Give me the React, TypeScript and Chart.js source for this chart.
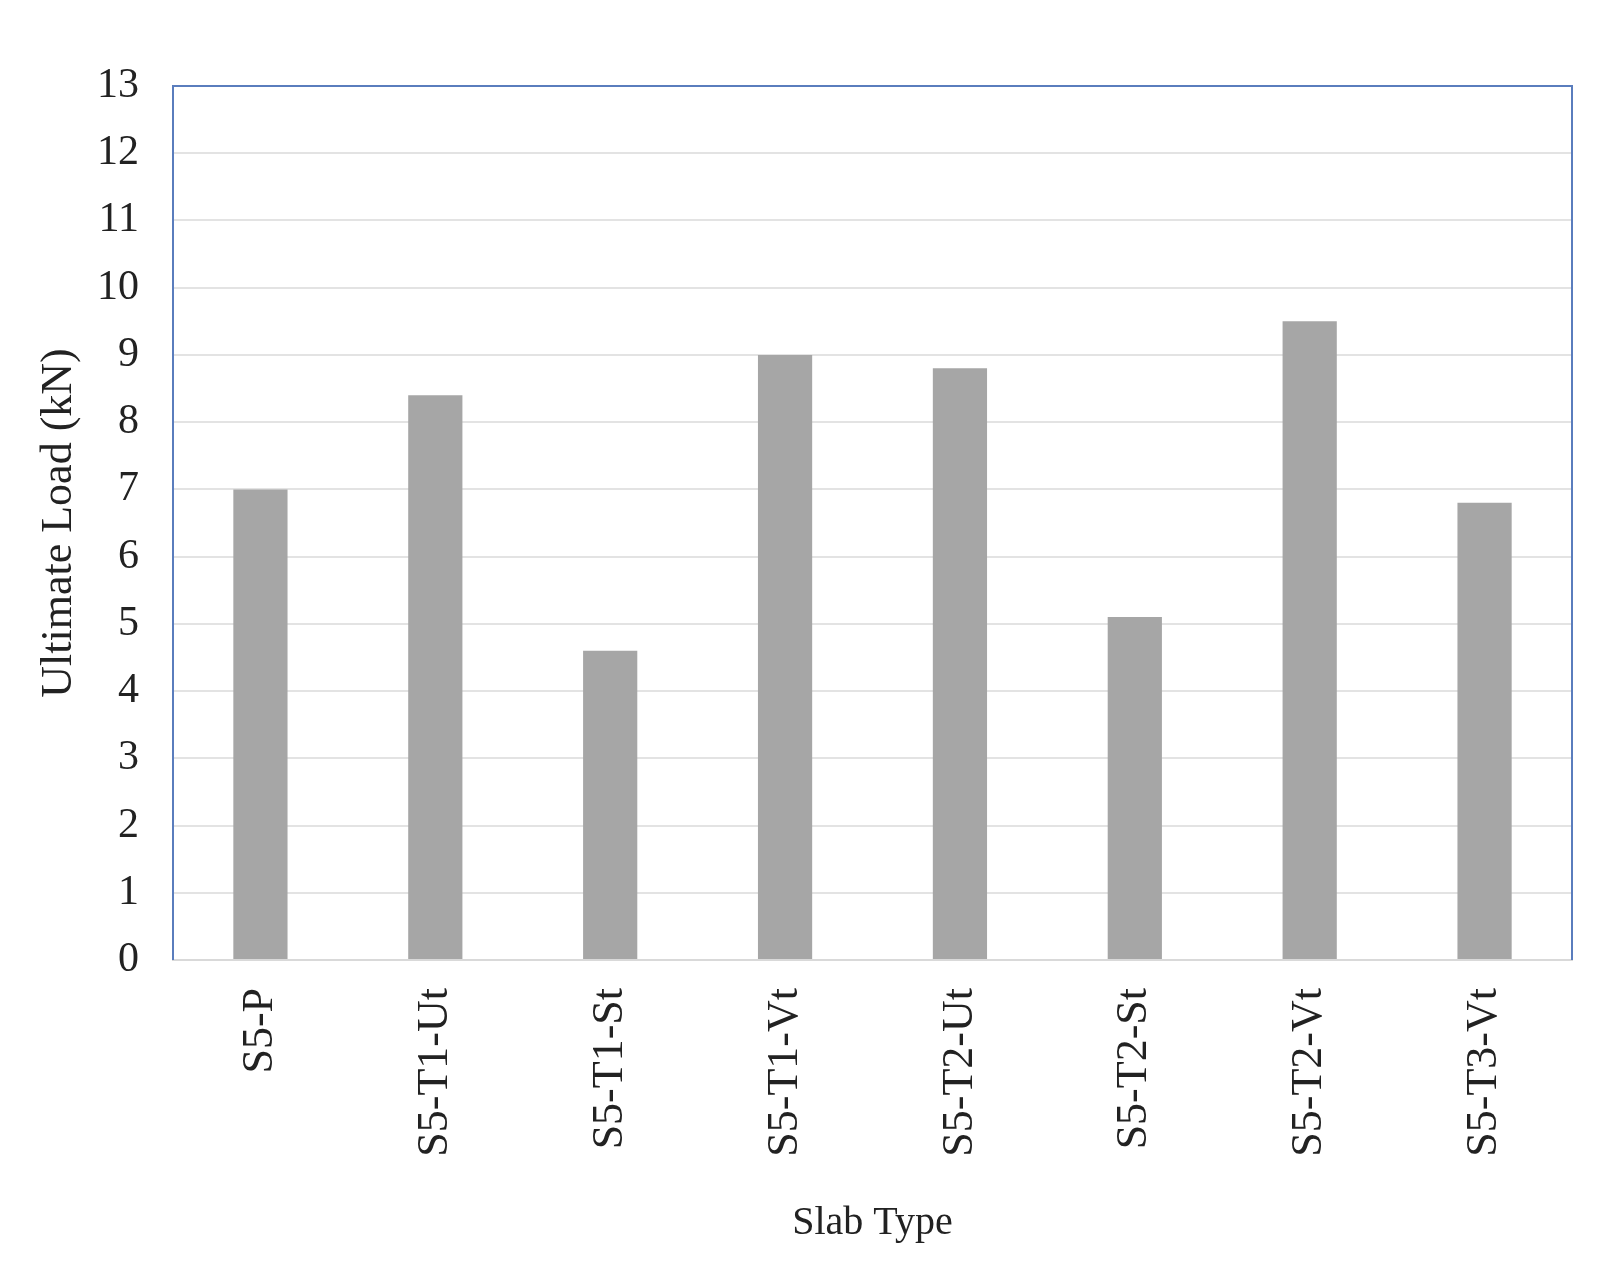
import React, { useEffect, useRef } from "react";
import { Chart, registerables } from "chart.js";

Chart.register(...registerables);

const categories = ["S5-P", "S5-T1-Ut", "S5-T1-St", "S5-T1-Vt", "S5-T2-Ut", "S5-T2-St", "S5-T2-Vt", "S5-T3-Vt"];
const ultimateLoad = [7.0, 8.4, 4.6, 9.0, 8.8, 5.1, 9.5, 6.8];
const yMin = 0;
const yMax = 13;
const yStep = 1;
const yTitle = "Ultimate Load (kN)";
const xTitle = "Slab Type";

const W = 1602;
const H = 1257;
const FONT = "'Liberation Serif', 'Times New Roman', serif";

const frameBorder = {
  id: "frameBorder",
  afterDatasetsDraw(chart: any) {
    const { ctx, chartArea } = chart;
    const { left, right, top, bottom } = chartArea;
    ctx.save();
    ctx.strokeStyle = "#5a7dbd";
    ctx.lineWidth = 2;
    ctx.beginPath();
    ctx.moveTo(left, bottom);
    ctx.lineTo(left, top);
    ctx.lineTo(right, top);
    ctx.lineTo(right, bottom);
    ctx.stroke();
    ctx.restore();
  },
};

export default function App() {
  const ref = useRef<HTMLCanvasElement | null>(null);

  useEffect(() => {
    if (!ref.current) return;
    const chart = new Chart(ref.current, {
      type: "bar",
      data: {
        labels: categories,
        datasets: [
          {
            label: yTitle,
            data: ultimateLoad,
            backgroundColor: "#a6a6a6",
            borderWidth: 0,
            categoryPercentage: 1,
            barPercentage: 0.31,
          },
        ],
      },
      options: {
        responsive: false,
        animation: false,
        devicePixelRatio: 1,
        layout: { padding: { left: 0, top: 78, right: 38, bottom: 0 } },
        plugins: {
          legend: { display: false },
          tooltip: { enabled: false },
        },
        scales: {
          x: {
            grid: { display: false, drawTicks: false },
            border: { display: true, color: "#d9d9d9", width: 2 },
            ticks: {
              autoSkip: false,
              minRotation: 90,
              maxRotation: 90,
              padding: 28,
              color: "#222222",
              font: { family: FONT, size: 44 },
            },
            title: {
              display: true,
              text: xTitle,
              color: "#222222",
              font: { family: FONT, size: 40 },
              padding: { top: 0, bottom: 18 },
            },
            afterFit: (scale: any) => {
              scale.height = H - 952;
            },
          },
          y: {
            min: yMin,
            max: yMax,
            grid: { color: "#e3e3e3", lineWidth: 2, drawTicks: false },
            border: { display: false },
            ticks: {
              stepSize: yStep,
              padding: 34,
              color: "#222222",
              font: { family: FONT, size: 42 },
            },
            title: {
              display: true,
              text: yTitle,
              color: "#222222",
              font: { family: FONT, size: 44 },
              padding: { top: 25, bottom: 0 },
            },
            afterFit: (scale: any) => {
              scale.width = 165;
            },
          },
        },
      },
      plugins: [frameBorder],
    });
    return () => chart.destroy();
  }, []);

  return <canvas ref={ref} width={W} height={H} style={{ display: "block", width: W, height: H }} />;
}
